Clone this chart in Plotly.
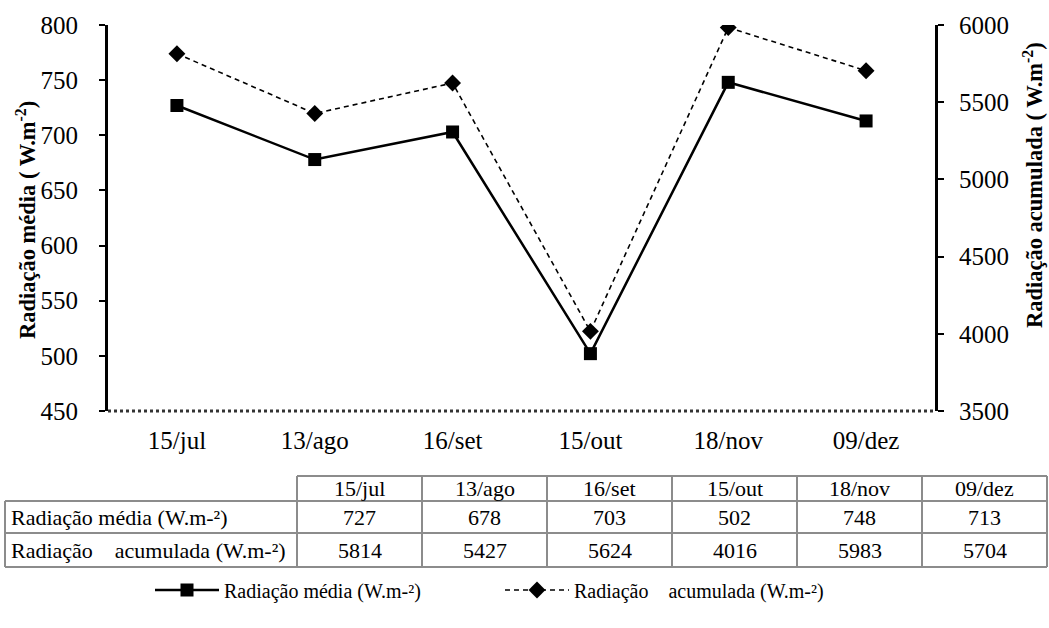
import plotly.graph_objects as go

# Sampling dates and radiation values
datas = ["15/jul", "13/ago", "16/set", "15/out", "18/nov", "09/dez"]
rad_media = [727, 678, 703, 502, 748, 713]
rad_acumulada = [5814, 5427, 5624, 4016, 5983, 5704]

nome_media = "Radiação média (W.m-²)"
nome_acum = "Radiação\u00a0\u00a0\u00a0 acumulada (W.m-²)"

FONT = "Liberation Serif"
W, H = 1049, 628

# Plot area in pixels
X0, X1 = 108, 935
Y0, Y1 = 25, 411


def fnt(size):
    return dict(family=FONT, size=size, color="black")


fig = go.Figure()
pos = list(range(len(datas)))

fig.add_trace(go.Scatter(
    x=pos, y=rad_media, name=nome_media, mode="lines+markers",
    line=dict(color="black", width=2.5),
    marker=dict(symbol="square", size=13, color="black"),
    xaxis="x", yaxis="y"))
fig.add_trace(go.Scatter(
    x=pos, y=rad_acumulada, name=nome_acum, mode="lines+markers",
    line=dict(color="black", width=1.6, dash="5px,4px"),
    marker=dict(symbol="diamond", size=13, color="black"),
    xaxis="x", yaxis="y2"))

xd = [X0 / W, X1 / W]
yd = [1 - Y1 / H, 1 - Y0 / H]

fig.update_layout(
    width=W, height=H,
    margin=dict(l=0, r=0, t=0, b=0, autoexpand=False),
    paper_bgcolor="white", plot_bgcolor="white",
    font=fnt(22),
    xaxis=dict(domain=xd, range=[-0.5, 5.5], tickmode="array",
               tickvals=pos, ticktext=datas, ticks="", showgrid=False,
               zeroline=False, showline=False, ticklabelstandoff=12,
               automargin=False, tickfont=fnt(25)),
    xaxis2=dict(domain=xd, range=[-0.5, 5.5], overlaying="x", anchor="y",
                tickmode="array", tickvals=[i - 0.5 for i in range(7)],
                ticks="outside", ticklen=5, tickwidth=2, tickcolor="#444",
                showticklabels=False, showgrid=False, zeroline=False,
                showline=False, automargin=False),
    yaxis=dict(domain=yd, range=[450, 800], dtick=50, showgrid=False,
               zeroline=False, showline=True, linecolor="black", linewidth=3,
               ticks="outside", ticklen=6, tickwidth=2, tickcolor="black",
               ticklabelstandoff=16, automargin=False, tickfont=fnt(25)),
    yaxis2=dict(domain=yd, range=[3500, 6000], dtick=500, overlaying="y",
                side="right", showgrid=False, zeroline=False, showline=True,
                linecolor="black", linewidth=3, ticks="outside", ticklen=6,
                tickwidth=2, tickcolor="black", ticklabelstandoff=10,
                automargin=False, tickfont=fnt(25)),
    legend=dict(orientation="h", x=150 / W, xanchor="left", y=1 - 590 / H,
                yanchor="middle", font=fnt(20), itemwidth=64,
                entrywidth=271, traceorder="normal"),
    showlegend=True,
)

# Bottom axis line (dotted)
fig.add_shape(type="line", xref="paper", yref="paper",
              x0=X0 / W, x1=X1 / W, y0=1 - Y1 / H, y1=1 - Y1 / H,
              line=dict(color="#333", width=3, dash="dot"))

# Axis titles
fig.add_annotation(text="<b>Radiação média ( W.m<sup>-2</sup>)</b>",
                   xref="paper", yref="paper", x=26 / W, y=1 - 220 / H,
                   xanchor="center", yanchor="middle",
                   textangle=-90, showarrow=False, font=fnt(22.5))
fig.add_annotation(text="<b>Radiação acumulada ( W.m<sup>-2</sup>)</b>",
                   xref="paper", yref="paper", x=1033 / W, y=1 - 185 / H,
                   xanchor="center", yanchor="middle",
                   textangle=-90, showarrow=False, font=fnt(22.5))

# Data table below the chart
GRAY = "#8c8c8c"
col_x = [297 + 125 * i for i in range(7)]
row_y = [476, 501, 533, 567]
LEFT = 5


def px(xv):
    return xv / W


def py(yv):
    return 1 - yv / H


def hline(xa, xb, yv):
    fig.add_shape(type="line", xref="paper", yref="paper", x0=px(xa),
                  x1=px(xb), y0=py(yv), y1=py(yv),
                  line=dict(color=GRAY, width=2))


def vline(xv, ya, yb):
    fig.add_shape(type="line", xref="paper", yref="paper", x0=px(xv),
                  x1=px(xv), y0=py(ya), y1=py(yb),
                  line=dict(color=GRAY, width=2))


hline(col_x[0], col_x[-1], row_y[0])
for yv in row_y[1:]:
    hline(LEFT, col_x[-1], yv)
vline(LEFT, row_y[1], row_y[3])
for xv in col_x:
    vline(xv, row_y[0], row_y[3])

rows = [(None, datas), (nome_media, rad_media), (nome_acum, rad_acumulada)]
for r, (label, vals) in enumerate(rows):
    yc = (row_y[r] + row_y[r + 1]) / 2
    if label is not None:
        fig.add_annotation(text=label, xref="paper", yref="paper",
                           x=px(LEFT + 4), y=py(yc), xanchor="left",
                           yanchor="middle", showarrow=False,
                           font=fnt(22))
    for c, v in enumerate(vals):
        xc = (col_x[c] + col_x[c + 1]) / 2
        fig.add_annotation(text=str(v), xref="paper", yref="paper",
                           x=px(xc), y=py(yc), xanchor="center",
                           yanchor="middle", showarrow=False,
                           font=fnt(22))

fig.write_html("out.html")
